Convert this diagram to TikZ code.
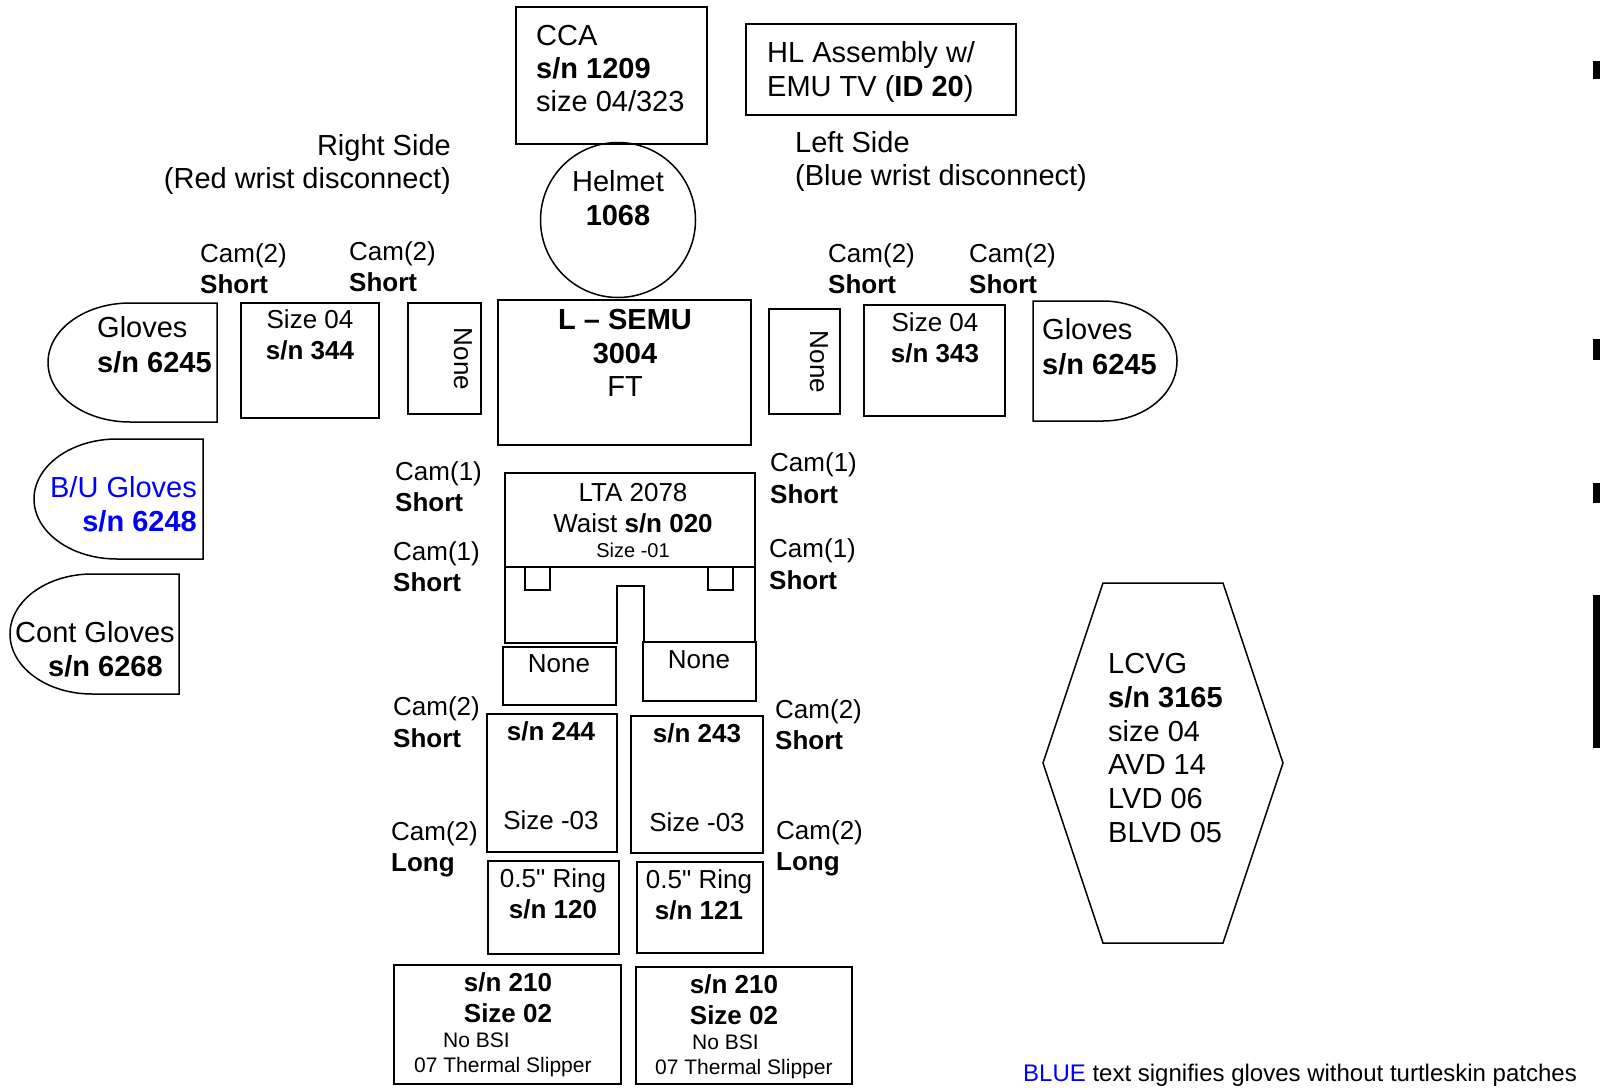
\documentclass[tikz,border=0pt]{standalone}
\usepackage{fontspec}
\setmainfont{Liberation Sans}
\definecolor{pureblue}{RGB}{0,0,255}
\begin{document}
\begin{tikzpicture}[x=1pt,y=-1pt,
  shp/.style={draw, line width=1.5pt},
  tl/.style={inner sep=0pt, font=\fontsize{29}{33}\selectfont},
  tm/.style={inner sep=0pt, font=\fontsize{26}{30}\selectfont},
  ts/.style={inner sep=0pt, font=\fontsize{21}{24}\selectfont},
  tn/.style={inner sep=0pt, font=\fontsize{24}{28}\selectfont},
  bw/.style={anchor=base west}, bc/.style={anchor=base}, be/.style={anchor=base east}]
\useasboundingbox (0,0) rectangle (1600,1089);

% ---------- shapes ----------
\draw[shp] (516,7) rectangle (707,144);
\draw[shp] (746,24) rectangle (1016,115);
\draw[shp] (618,220) circle[radius=77.5];
\draw[shp] (498,300) rectangle (751,445);
\draw[shp] (217,303) -- (130,303) arc[start angle=270,end angle=90,x radius=82,y radius=59.5] -- (217,422) -- cycle;
\draw[shp] (1033,301) -- (1103,301) arc[start angle=270,end angle=450,x radius=74,y radius=60] -- (1033,421) -- cycle;
\draw[shp] (203,439) -- (117,439) arc[start angle=270,end angle=90,x radius=83,y radius=60] -- (203,559) -- cycle;
\draw[shp] (179,574) -- (92,574) arc[start angle=270,end angle=90,x radius=82,y radius=60] -- (179,694) -- cycle;
\draw[shp] (241,303) rectangle (379,418);
\draw[shp] (864,305) rectangle (1005,416);
\draw[shp] (408,303) rectangle (481,414);
\draw[shp] (769,309) rectangle (840,414);
% LTA
\draw[shp] (505,473) rectangle (755,567);
\draw[shp] (505,567) -- (505,643) -- (617,643) -- (617,586) -- (644,586) -- (644,642);
\draw[shp] (755,567) -- (755,642);
\draw[shp] (525,567) rectangle (550,590);
\draw[shp] (708,567) rectangle (733,590);
\draw[shp] (503,647) rectangle (616,705);
\draw[shp] (643,642) rectangle (756,701);
% legs
\draw[shp] (487,714) rectangle (617,852);
\draw[shp] (631,716) rectangle (763,853);
\draw[shp] (488,861) rectangle (619,954);
\draw[shp] (637,862) rectangle (763,953);
\draw[shp] (394,965) rectangle (621,1084);
\draw[shp] (636,967) rectangle (852,1084);
% LCVG hexagon
\draw[shp] (1103,583) -- (1223,583) -- (1283,763) -- (1223,943) -- (1103,943) -- (1043,763) -- cycle;
% right edge marks
\fill (1593,61) rectangle (1600,79);
\fill (1593,339) rectangle (1600,360);
\fill (1593,483) rectangle (1600,503);
\fill (1593,595) rectangle (1600,748);

% ---------- texts ----------
\node[tl,bw] (cca1) at (536,46) {CCA};
\node[tl,bw] (cca2) at (536,79) {\bfseries s/n 1209};
\node[tl,bw] (cca3) at (536,112) {size 04/323};
\node[tl,bw] (hl1) at (767,63) {HL Assembly w/};
\node[tl,bw] (hl2) at (767,97) {EMU TV (\textbf{ID 20})};
\node[tl,be] (rs1) at (451,155) {Right Side};
\node[tl,be] (rs2) at (451,188) {(Red wrist disconnect)};
\node[tl,bw] (ls1) at (795,152) {Left Side};
\node[tl,bw] (ls2) at (795,185) {(Blue wrist disconnect)};
\node[tl,bc] (hel1) at (618,191) {Helmet};
\node[tl,bc] (hel2) at (618,225) {\bfseries 1068};

\node[tm,bw] (c1a) at (200,262) {Cam(2)};
\node[tm,bw] (c1b) at (200,293) {\bfseries Short};
\node[tm,bw] (c2a) at (349,260) {Cam(2)};
\node[tm,bw] (c2b) at (349,291) {\bfseries Short};
\node[tm,bw] (c3a) at (828,262) {Cam(2)};
\node[tm,bw] (c3b) at (828,293) {\bfseries Short};
\node[tm,bw] (c4a) at (969,262) {Cam(2)};
\node[tm,bw] (c4b) at (969,293) {\bfseries Short};

\node[tl,bc,font=\fontsize{29}{33}\selectfont\bfseries] (se1) at (625,329) {L – SEMU};
\node[tl,bc] (se2) at (625,363) {\bfseries 3004};
\node[tl,bc] (se3) at (625,396) {FT};

\node[tl,bw] (gl1) at (97,337) {Gloves};
\node[tl,bw] (gl2) at (97,372) {\bfseries s/n 6245};
\node[tm,bc] (sl1) at (310,328) {Size 04};
\node[tm,bc] (sl2) at (310,359) {\bfseries s/n 344};
\node[tm,rotate=-90] (nl) at (463,359) {None};
\node[tm,rotate=-90] (nr) at (819,362) {None};
\node[tm,bc] (sr1) at (935,331) {Size 04};
\node[tm,bc] (sr2) at (935,362) {\bfseries s/n 343};
\node[tl,bw] (gr1) at (1042,339) {Gloves};
\node[tl,bw] (gr2) at (1042,374) {\bfseries s/n 6245};

\node[tl,be,text=pureblue] (bu1) at (197,497) {B/U Gloves};
\node[tl,be,text=pureblue] (bu2) at (197,531) {\bfseries s/n 6248};
\node[tl,bw] (cg1) at (15,642) {Cont Gloves};
\node[tl,bw] (cg2) at (48,676) {\bfseries s/n 6268};

\node[tm,bw] (k1a) at (395,480) {Cam(1)};
\node[tm,bw] (k1b) at (395,511) {\bfseries Short};
\node[tm,bw] (k2a) at (393,560) {Cam(1)};
\node[tm,bw] (k2b) at (393,591) {\bfseries Short};
\node[tm,bw] (k3a) at (770,471) {Cam(1)};
\node[tm,bw] (k3b) at (770,503) {\bfseries Short};
\node[tm,bw] (k4a) at (769,557) {Cam(1)};
\node[tm,bw] (k4b) at (769,589) {\bfseries Short};

\node[tm,bc] (lta1) at (633,501) {LTA 2078};
\node[tm,bc] (lta2) at (633,532) {Waist \textbf{s/n 020}};
\node[inner sep=0pt,font=\fontsize{20}{24}\selectfont,bc] (lta3) at (633,557) {Size -01};
\node[tm,bc] (nn1) at (559,672) {None};
\node[tm,bc] (nn2) at (699,668) {None};

\node[tm,bw] (l1a) at (393,715) {Cam(2)};
\node[tm,bw] (l1b) at (393,747) {\bfseries Short};
\node[tm,bw] (l2a) at (391,840) {Cam(2)};
\node[tm,bw] (l2b) at (391,871) {\bfseries Long};
\node[tm,bw] (l3a) at (775,718) {Cam(2)};
\node[tm,bw] (l3b) at (775,749) {\bfseries Short};
\node[tm,bw] (l4a) at (776,839) {Cam(2)};
\node[tm,bw] (l4b) at (776,870) {\bfseries Long};

\node[tm,bc] (lg1) at (551,740) {\bfseries s/n 244};
\node[tm,bc] (lg2) at (551,829) {Size -03};
\node[tm,bc] (rg1) at (697,742) {\bfseries s/n 243};
\node[tm,bc] (rg2) at (697,831) {Size -03};
\node[tm,bc] (ri1) at (553,887) {0.5\textquotedbl{} Ring};
\node[tm,bc] (ri2) at (553,918) {\bfseries s/n 120};
\node[tm,bc] (rj1) at (699,888) {0.5\textquotedbl{} Ring};
\node[tm,bc] (rj2) at (699,919) {\bfseries s/n 121};

\node[tm,bc] (bl1) at (508,991) {\bfseries s/n 210};
\node[tm,bc] (bl2) at (508,1022) {\bfseries Size 02};
\node[ts,bw] (bl3) at (443,1047) {No BSI};
\node[ts,bw] (bl4) at (414,1072) {07 Thermal Slipper};
\node[tm,bc] (br1) at (734,993) {\bfseries s/n 210};
\node[tm,bc] (br2) at (734,1024) {\bfseries Size 02};
\node[ts,bw] (br3) at (692,1049) {No BSI};
\node[ts,bw] (br4) at (655,1074) {07 Thermal Slipper};

\node[tl,bw] (lc1) at (1108,673) {LCVG};
\node[tl,bw] (lc2) at (1108,707) {\bfseries s/n 3165};
\node[tl,bw] (lc3) at (1108,741) {size 04};
\node[tl,bw] (lc4) at (1108,774) {AVD 14};
\node[tl,bw] (lc5) at (1108,808) {LVD 06};
\node[tl,bw] (lc6) at (1108,842) {BLVD 05};

\node[tn,bw] (note) at (1023,1081) {\textcolor{pureblue}{BLUE} text signifies gloves without turtleskin patches};
\end{tikzpicture}
\end{document}
